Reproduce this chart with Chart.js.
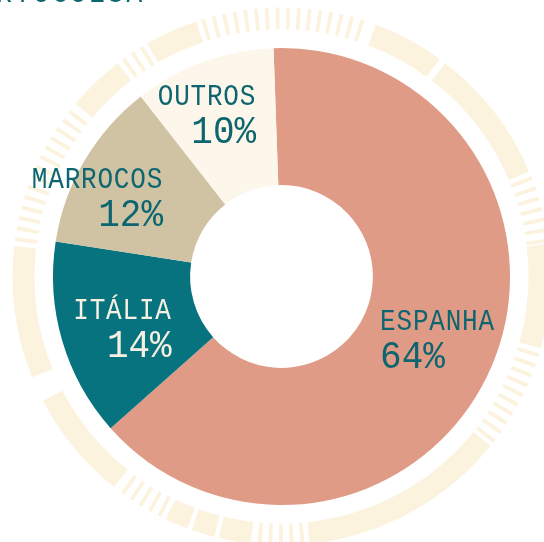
<!DOCTYPE html>
<html><head><meta charset="utf-8">
<script src="https://cdn.jsdelivr.net/npm/chart.js@4/dist/chart.umd.min.js"></script>
<style>html,body{margin:0;padding:0;background:#fff;overflow:hidden}</style>
</head><body>
<canvas id="c" width="544" height="542"></canvas>
<script>
// ---- data ----
const categories = ['ESPANHA', 'ITÁLIA', 'MARROCOS', 'OUTROS'];
const shares = [64, 14, 12, 10];
const percentLabels = ['64%', '14%', '12%', '10%'];
const titleText = 'PORTUGUESA';

// ---- style ----
const sliceColors = ['#df9b86', '#07737f', '#cfc3a3', '#fdf6ea'];
const labelColors = ['#0d6570', '#f6f0e2', '#0d6570', '#0d6570'];
const labelAngleNudge = [-0.9, -1.9, -7.4, -4.8];   // degrees from slice mid-angle
const labelRadius = [0.738, 0.733, 0.875, 0.778];   // fraction of outer radius
const labelAlign = ['left', 'right', 'right', 'right'];
const ringColor = '#fbf3de';
// decorative outer ring: [startDeg, endDeg, kind] clockwise from 12 o'clock; s = solid, t = ticks
const ringPattern = [
  [310, 322.5, 's'], [323, 329.5, 't'], [330, 341.5, 's'], [342, 380, 't'],
  [380.5, 396, 's'], [397.5, 427, 's'], [427.5, 443, 't'], [443, 465.5, 's'],
  [466, 488.5, 't'], [489, 534, 's'], [534.5, 547.5, 't'], [547.5, 553.5, 's'],
  [554.5, 559.5, 's'], [560.5, 565.5, 's'], [566, 578.5, 't'], [578.5, 602.5, 's'],
  [608, 636.5, 's'], [637, 670, 't']
];
const FONT = '"Liberation Mono", "DejaVu Sans Mono", monospace';
const NAME_FONT = '26px ' + FONT, NAME_SP = '0.8px', NAME_SY = 1.13;
const PCT_FONT = '36px ' + FONT, PCT_SP = '0px', PCT_SY = 1.1;

const toRad = d => (d - 90) * Math.PI / 180;
function sector(ctx, x, y, r1, r2, a1, a2) {
  ctx.beginPath();
  ctx.arc(x, y, r2, toRad(a1), toRad(a2));
  ctx.arc(x, y, r1, toRad(a2), toRad(a1), true);
  ctx.closePath();
  ctx.fill();
}
function stretchedText(ctx, text, x, y, sy) {
  ctx.save();
  ctx.translate(x, y);
  ctx.scale(1, sy);
  ctx.fillText(text, 0, 0);
  ctx.restore();
}

const ringPlugin = {
  id: 'ring',
  beforeDatasetsDraw(chart) {
    const arc = chart.getDatasetMeta(0).data[0];
    const p = arc.getProps(['x', 'y', 'outerRadius'], true);
    const r1 = p.outerRadius * 1.081, r2 = p.outerRadius * 1.177;
    const ctx = chart.ctx;
    ctx.save();
    ctx.fillStyle = ringColor;
    ringPattern.forEach(([a, b, k]) => {
      if (k === 's') sector(ctx, p.x, p.y, r1, r2, a, b);
      else for (let t = a + 0.6; t + 0.85 <= b; t += 2.3) sector(ctx, p.x, p.y, r1, r2, t, t + 0.85);
    });
    ctx.restore();
  }
};

const labelPlugin = {
  id: 'labels',
  afterDatasetsDraw(chart) {
    const ctx = chart.ctx;
    ctx.save();
    chart.getDatasetMeta(0).data.forEach((arc, i) => {
      const p = arc.getProps(['x', 'y', 'startAngle', 'endAngle', 'outerRadius'], true);
      const mid = (p.startAngle + p.endAngle) / 2 + labelAngleNudge[i] * Math.PI / 180;
      const r = p.outerRadius * labelRadius[i];
      const cx = p.x + Math.cos(mid) * r, cy = p.y + Math.sin(mid) * r;
      ctx.font = NAME_FONT; ctx.letterSpacing = NAME_SP;
      const w1 = ctx.measureText(categories[i]).width;
      ctx.font = PCT_FONT; ctx.letterSpacing = PCT_SP;
      const w2 = ctx.measureText(percentLabels[i]).width;
      const w = Math.max(w1, w2);
      const xa = labelAlign[i] === 'left' ? cx - w / 2 : cx + w / 2;
      ctx.textAlign = labelAlign[i];
      ctx.textBaseline = 'alphabetic';
      ctx.fillStyle = labelColors[i];
      ctx.font = NAME_FONT; ctx.letterSpacing = NAME_SP;
      stretchedText(ctx, categories[i], xa, cy - 10, NAME_SY);
      ctx.font = PCT_FONT; ctx.letterSpacing = PCT_SP;
      stretchedText(ctx, percentLabels[i], xa, cy + 28, PCT_SY);
    });
    ctx.font = '26px ' + FONT; ctx.letterSpacing = '3px';
    ctx.textAlign = 'left'; ctx.fillStyle = '#0d6570';
    stretchedText(ctx, titleText, -41, 2, NAME_SY);
    ctx.restore();
  }
};

new Chart(document.getElementById('c'), {
  type: 'doughnut',
  data: {
    labels: categories,
    datasets: [{ data: shares, backgroundColor: sliceColors, borderWidth: 0, hoverOffset: 0 }]
  },
  options: {
    responsive: false,
    devicePixelRatio: 1,
    animation: false,
    rotation: -2,
    cutout: '40%',
    layout: { padding: { left: 53, right: 34, top: 48, bottom: 37 } },
    plugins: { legend: { display: false }, tooltip: { enabled: false } },
    events: []
  },
  plugins: [ringPlugin, labelPlugin]
});
</script>
</body></html>
